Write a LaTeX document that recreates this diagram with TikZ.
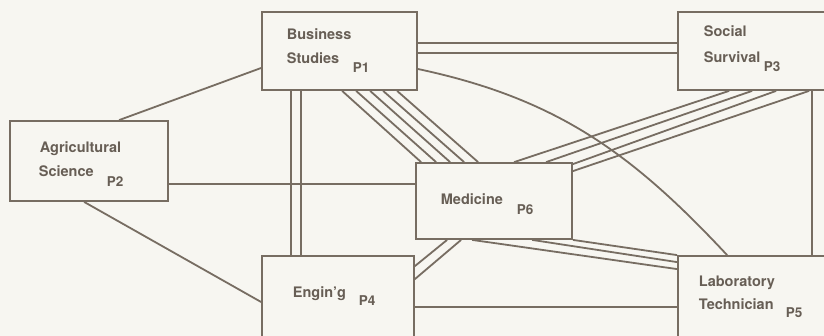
\documentclass[tikz,border=0pt]{standalone}
\usepackage{fontspec}
\setmainfont{TeX Gyre Heros}
\usepackage{tikz}
\usetikzlibrary{calc}
\definecolor{inkline}{HTML}{776D62}
\definecolor{inktext}{HTML}{675E55}
\definecolor{paper}{HTML}{F7F6F1}
\newcommand{\lblfont}{\bfseries\fontsize{14.5}{17}\selectfont}
\newcommand{\numfont}{\bfseries\fontsize{13.5}{15}\selectfont}

\begin{document}
\begin{tikzpicture}[x=1pt,y=-1pt,line width=1.8pt,draw=inkline,
  box/.style={draw=inkline,rectangle,inner sep=0pt,fill=paper,line width=1.8pt},
  lbl/.style={anchor=base west,inner sep=0pt,text=inktext,font=\lblfont},
  pnum/.style={lbl,font=\numfont},
  link/.style={draw=inkline,line width=1.8pt}]
  \fill[paper] (0,0) rectangle (824,336);
  \clip (0,0) rectangle (824,336);
  % boxes
  \node[box,minimum width=155pt,minimum height=78pt] (p1) at (339.5,51) {};
  \node[box,minimum width=200pt,minimum height=78pt] (p3) at (778,51) {};
  \node[box,minimum width=158pt,minimum height=80pt] (p2) at (89,161) {};
  \node[box,minimum width=156pt,minimum height=76pt] (p6) at (494,201) {};
  \node[box,minimum width=152pt,minimum height=90pt] (p4) at (338,301) {};
  \node[box,minimum width=202pt,minimum height=90pt] (p5) at (779,301) {};
  % links
  \draw[link] ($(p2.north west)+(110,0)$) -- ($(p1.west)+(0,17)$);
  \draw[link] ($(p2.south west)+(75,0)$) -- ($(p4.west)+(0,1)$);
  \draw[link] ($(p2.east)+(0,23)$) -- ($(p6.west)+(0,-17)$);
  \foreach \d in {-8,2}
    \draw[link] ($(p1.east)+(0,\d)$) -- ($(p3.west)+(0,\d)$);
  \foreach \d in {30,40}
    \draw[link] ($(p1.south west)+(\d,0)$) -- ($(p4.north west)+(\d,0)$);
  \foreach \a/\b in {81/6,95/21,109/35,122/49,136/63}
    \draw[link] ($(p1.south west)+(\a,0)$) -- ($(p6.north west)+(\b,0)$);
  \draw[link] ($(p3.south west)+(52,0)$) -- ($(p6.north west)+(99,0)$);
  \draw[link] ($(p3.south west)+(75,0)$) -- ($(p6.north west)+(131,0)$);
  \draw[link] ($(p3.south west)+(99,0)$) -- ($(p6.north east)+(0,2)$);
  \draw[link] ($(p3.south west)+(132,0)$) -- ($(p6.north east)+(0,9)$);
  \draw[link] ($(p1.east)+(0,18)$) to[out=-12,in=133] ($(p5.north west)+(50,0)$);
  \draw[link] ($(p3.south west)+(135,0)$) -- ($(p5.north west)+(135,0)$);
  \draw[link] ($(p6.south west)+(32,0)$) -- ($(p4.north east)+(0,11)$);
  \draw[link] ($(p6.south west)+(46,0)$) -- ($(p4.north east)+(0,24)$);
  \draw[link] ($(p6.south west)+(57,0)$) -- ($(p5.north west)+(0,14)$);
  \draw[link] ($(p6.south west)+(117,0)$) -- ($(p5.north west)+(0,7)$);
  \draw[link] (p6.south east) -- (p5.north west);
  \draw[link] ($(p4.east)+(0,6)$) -- ($(p5.west)+(0,6)$);
  % labels
  \node[lbl] (p1a) at (286,40) {Business};
  \node[lbl] (p1b) at (286,64) {Studies};
  \node[pnum] (p1n) at (352,73) {P1};
  \node[lbl] (p3a) at (703,37) {Social};
  \node[lbl] (p3b) at (703,63) {Survival};
  \node[pnum] (p3n) at (763,72) {P3};
  \node[lbl] (p2a) at (39,153) {Agricultural};
  \node[lbl] (p2b) at (38,177) {Science};
  \node[pnum] (p2n) at (106,187) {P2};
  \node[lbl] (p6a) at (440,205) {Medicine};
  \node[pnum] (p6n) at (516,215) {P6};
  \node[lbl] (p4a) at (292,298) {Engin'g};
  \node[pnum] (p4n) at (358,306) {P4};
  \node[lbl] (p5a) at (698,287) {Laboratory};
  \node[lbl] (p5b) at (698,309) {Technician};
  \node[pnum] (p5n) at (785,318) {P5};
\end{tikzpicture}
\end{document}
